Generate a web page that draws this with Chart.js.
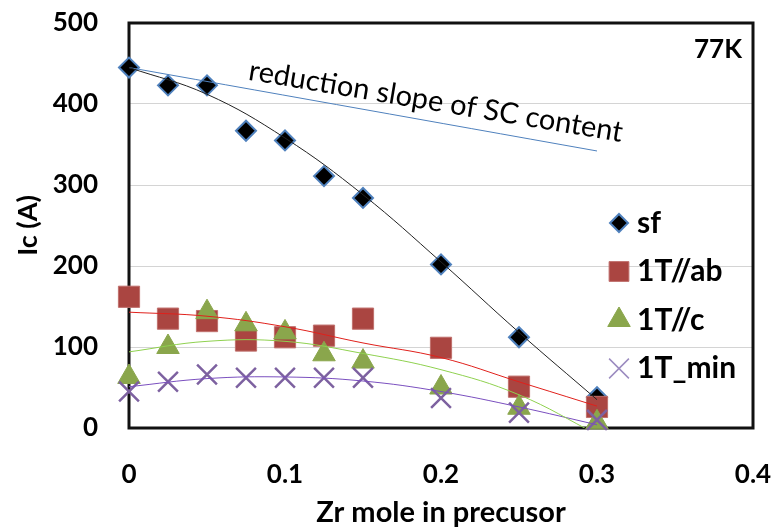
<!DOCTYPE html>
<html>
<head>
<meta charset="utf-8">
<script src="https://cdn.jsdelivr.net/npm/chart.js@4/dist/chart.umd.min.js"></script>
<style>
  html, body { margin: 0; padding: 0; background: #fff; }
  #wrap { width: 777px; height: 530px; }
</style>
</head>
<body>
<div id="wrap"><canvas id="chart" width="777" height="530"></canvas></div>
<script>
// measured points
const zrMole = [0, 0.025, 0.05, 0.075, 0.1, 0.125, 0.15, 0.2, 0.25, 0.3];
const icSf  = [445, 423, 423, 367, 355, 311, 284, 202, 112, 38];
const icAb  = [162, 135, 132, 108, 112, 114, 135, 99, 51, 26];
const icC   = [63, 100, 143, 128, 118, 91, 82, 50, 25, 7];
const icMin = [45, 57, 66, 62, 62, 62, 62, 37, 19, 10];

// trendlines
const trendX   = [0, 0.05, 0.1, 0.15, 0.2, 0.25, 0.3];
const trendSf  = [445, 412, 358, 288, 205, 118, 35];
const trendAb  = [143, 138, 125, 105, 87, 57, 27];
const trendC   = [94, 107, 107, 92, 72, 41, -8];
const trendMin = [51, 61, 63, 58, 45, 26, 4];

// "reduction slope of SC content" line
const slopeX = [0, 0.3];
const slopeY = [445, 342];

const xTicks = [0, 0.1, 0.2, 0.3, 0.4];
const yTicks = [0, 100, 200, 300, 400, 500];

const FONT = 'Lato, "Open Sans", sans-serif';

function pts(xs, ys) {
    return xs.map((x, i) => ({ x: x, y: ys[i] }));
}

function markerSet(label, ys, style, radius, fill, border, bw, order) {
    return {
        label: label,
        data: pts(zrMole, ys),
        showLine: false,
        pointStyle: style,
        pointRadius: radius,
        pointHoverRadius: radius,
        pointBackgroundColor: fill,
        pointBorderColor: border,
        pointBorderWidth: bw,
        clip: false,
        order: order,
        inLegend: true
    };
}

function trendSet(xs, ys, color) {
    return {
        data: pts(xs, ys),
        showLine: true,
        borderColor: color,
        borderWidth: 1,
        pointRadius: 0,
        tension: 0.4,
        order: 0
    };
}

// fixed axis boxes, no extra room for edge labels
function fixBox(axis, w, h) {
    if (w) axis.width = w;
    if (h) axis.height = h;
    axis.paddingLeft = axis.paddingRight = axis.paddingTop = axis.paddingBottom = 0;
}

// plot frame behind the markers
const framePlugin = {
    id: 'frame',
    beforeDatasetsDraw(chart) {
        const a = chart.chartArea, ctx = chart.ctx;
        ctx.save();
        ctx.strokeStyle = '#111';
        ctx.lineWidth = 3;
        ctx.strokeRect(a.left, a.top, a.right - a.left, a.bottom - a.top);
        ctx.restore();
    }
};

// legend, 77K label and slope note
const notesPlugin = {
    id: 'notes',
    afterDraw(chart) {
        const a = chart.chartArea, ctx = chart.ctx;
        const xs = chart.scales.x, ys = chart.scales.y;
        ctx.save();

        ctx.fillStyle = '#000';
        ctx.font = 'bold 26px ' + FONT;
        ctx.textAlign = 'right';
        ctx.textBaseline = 'middle';
        ctx.fillText('77K', a.right - 11, a.top + 27);

        ctx.save();
        ctx.translate(xs.getPixelForValue(0.076), ys.getPixelForValue(430));
        ctx.rotate(0.165);
        ctx.font = '29px ' + FONT;
        ctx.textAlign = 'left';
        ctx.textBaseline = 'alphabetic';
        ctx.fillText('reduction slope of SC content', 0, 0);
        ctx.restore();

        let row = 0;
        chart.data.datasets.forEach(ds => {
            if (!ds.inLegend) return;
            const mx = a.right - 134, my = a.top + 200 + row * 48.5;
            ctx.save();
            ctx.fillStyle = ds.pointBackgroundColor;
            ctx.strokeStyle = ds.legendBorder || ds.pointBorderColor;
            ctx.lineWidth = ds.legendBorderWidth || ds.pointBorderWidth;
            Chart.helpers.drawPoint(ctx, {
                pointStyle: ds.pointStyle,
                radius: ds.legendRadius || ds.pointRadius,
                rotation: 0,
                borderWidth: ctx.lineWidth
            }, mx, my);
            ctx.restore();
            ctx.fillStyle = '#000';
            ctx.font = 'bold 30px ' + FONT;
            ctx.textAlign = 'left';
            ctx.textBaseline = 'middle';
            ctx.fillText(ds.label, a.right - 116, my);
            row++;
        });
        ctx.restore();
    }
};

const sfSet = markerSet('sf', icSf, 'rectRot', 10, '#000', '#4f81bd', 2, 4);
sfSet.legendRadius = 9;
const abSet = markerSet('1T//ab', icAb, 'rect', 15, '#aa4541', '#c0706d', 1, 3);
abSet.legendRadius = 14;
const cSet = markerSet('1T//c', icC, 'triangle', 13, '#8aa64c', '#8aa64c', 1, 2);
const minSet = markerSet('1T_min', icMin, 'crossRot', 14, '#7d61a0', '#7d61a0', 2.5, 1);
minSet.legendBorder = '#9c8cc0';
minSet.legendBorderWidth = 1.5;

new Chart(document.getElementById('chart'), {
    type: 'scatter',
    data: {
        datasets: [
            sfSet, abSet, cSet, minSet,
            trendSet(trendX, trendSf, '#222'),
            trendSet(trendX, trendAb, '#e0201b'),
            trendSet(trendX, trendC, '#8fd14f'),
            trendSet(trendX, trendMin, '#7a4fbf'),
            trendSet(slopeX, slopeY, '#4f81bd')
        ]
    },
    options: {
        responsive: false,
        animation: false,
        events: [],
        layout: { padding: { top: 23, right: 24, left: 0, bottom: 0 } },
        plugins: {
            legend: { display: false },
            tooltip: { enabled: false }
        },
        scales: {
            x: {
                type: 'linear',
                min: 0,
                max: 0.4,
                afterBuildTicks: axis => { axis.ticks = xTicks.map(v => ({ value: v })); },
                afterFit: axis => fixBox(axis, 0, 102),
                grid: { display: false, drawTicks: false },
                border: { display: false },
                ticks: {
                    padding: 31,
                    color: '#000',
                    font: { family: FONT, size: 26, weight: 'bold' },
                    maxRotation: 0,
                    callback: v => String(Math.round(v * 10) / 10)
                },
                title: {
                    display: true,
                    text: 'Zr mole in precusor',
                    color: '#000',
                    font: { family: FONT, size: 29, weight: 'bold' },
                    padding: { top: 0, bottom: 0 }
                }
            },
            y: {
                type: 'linear',
                min: 0,
                max: 500,
                afterBuildTicks: axis => { axis.ticks = yTicks.map(v => ({ value: v })); },
                afterFit: axis => fixBox(axis, 129, 0),
                grid: { color: '#d4d4d4', lineWidth: 1, drawTicks: false },
                border: { display: false },
                ticks: {
                    padding: 31,
                    color: '#000',
                    font: { family: FONT, size: 26, weight: 'bold' }
                },
                title: {
                    display: true,
                    text: 'Ic (A)',
                    color: '#000',
                    font: { family: FONT, size: 27, weight: 'bold' },
                    padding: { top: 12, bottom: 0 }
                }
            }
        }
    },
    plugins: [framePlugin, notesPlugin]
});
</script>
</body>
</html>
